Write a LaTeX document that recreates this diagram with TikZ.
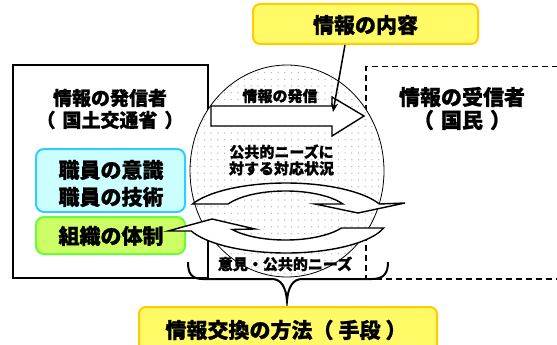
\documentclass[tikz,border=0pt]{standalone}
\usepackage{fontspec}
\newfontfamily\cjk{Noto Sans CJK JP}[BoldFeatures={FakeBold=1}]
\usetikzlibrary{arrows.meta,calc}
\definecolor{cyfill}{RGB}{204,255,255}
\definecolor{cyline}{RGB}{51,204,255}
\definecolor{grfill}{RGB}{204,255,102}
\definecolor{grline}{RGB}{102,255,51}
\definecolor{yefill}{RGB}{255,250,102}
\definecolor{yeline}{RGB}{255,204,0}
\definecolor{dotc}{RGB}{185,185,185}
\begin{document}
\begin{tikzpicture}[x=1pt,y=-1pt,
  bigtxt/.style={font=\cjk\bfseries\fontsize{21}{27}\selectfont, inner sep=0pt, align=center},
  midtxt/.style={font=\cjk\bfseries\fontsize{19}{22}\selectfont, inner sep=0pt, align=center},
  smalltxt/.style={font=\cjk\bfseries\fontsize{15}{16.5}\selectfont, inner sep=0pt, align=center},
  plainbox/.style={draw, line width=1.5pt, inner sep=0pt},
  cybox/.style={draw=cyline, fill=cyfill, line width=2pt, rounded corners=8pt, inner sep=0pt},
  grbox/.style={draw=grline, fill=grfill, line width=2pt, rounded corners=8pt, inner sep=0pt},
  yebox/.style={draw=yeline, fill=yefill, line width=2pt, rounded corners=7pt, inner sep=0pt},
  blockarrow/.style={draw, fill=white, line width=1.4pt, line join=miter},
]
\useasboundingbox (0,0) rectangle (557,345);

% sender box and receiver box
\node[plainbox, minimum width=195pt, minimum height=213pt] (sender) at (110.5,171.5) {};
\node[plainbox, dashed, dash pattern=on 6pt off 4pt, minimum width=205pt, minimum height=212pt, anchor=north west] (receiver) at (365,66) {};

% dotted ellipse
\fill[white] (287,171) ellipse [x radius=97, y radius=106];
\begin{scope}
  \clip (287,171) ellipse [x radius=97, y radius=106];
  \foreach \i in {0,...,29} {
    \foreach \j in {0,...,32} {
      \fill[dotc] (191+\i*6.7, 66+\j*6.7) circle [radius=0.75];
    }
  }
\end{scope}
\draw[line width=0.8pt] (287,171) ellipse [x radius=97, y radius=106];

% block arrow
\draw[blockarrow] (211,106) -- (332,106) -- (332,97) -- (364,116) -- (332,136) -- (332,126) -- (211,126) -- cycle;
\node[smalltxt] (sendlbl) at (280,96) {情報の発信};

% texts
\node[midtxt] (sender1) at (110,98) {情報の発信者};
\node[midtxt] (sender2) at (110,120) {（\hspace{7pt}国土交通省\hspace{7pt}）};
\node[bigtxt] (recv1) at (462,97) {情報の受信者};
\node[bigtxt] (recv2) at (462,120) {（\hspace{7pt}国民\hspace{7pt}）};
\node[smalltxt] (needs) at (281.5,160) {公共的ニーズに\\対する対応状況};

% cyan and green boxes
\node[cybox, minimum width=149pt, minimum height=63pt] (staff) at (110.5,180.5) {};
\node[bigtxt] (staff1) at (111,170) {職員の意識};
\node[bigtxt] (staff2) at (111,197) {職員の技術};
\node[grbox, minimum width=149pt, minimum height=37pt] (org) at (110.5,235.5) {};
\node[bigtxt] (orgtxt) at (111,236) {組織の体制};

% cycle arrows
\draw[blockarrow] (192.5,204) arc[start angle=-156.4, end angle=-23.6, x radius=102, y radius=35]
  -- (405,203) -- (358,213) -- (315,204) -- (342.9,204)
  arc[start angle=-28, end angle=-152, x radius=65, y radius=24.5] -- cycle;
\draw[blockarrow] (383.7,228) arc[start angle=16.6, end angle=158.2, x radius=102, y radius=35]
  -- (168,231) -- (212,219) -- (255,229) -- (232.1,229.5)
  arc[start angle=145.2, end angle=30.7, x radius=65, y radius=24.5] -- cycle;

\node[smalltxt] (opinion) at (285,264) {意見・公共的ニーズ};

% brace
\draw[line width=2pt] (188,262) .. controls (188,273) and (191,279) .. (203,279) -- (272,279)
  .. controls (281,279) and (286,287) .. (287,301)
  .. controls (288,287) and (293,279) .. (302,279) -- (372,279)
  .. controls (384,279) and (388,273) .. (388,262);

% yellow boxes
\node[yebox, minimum width=225pt, minimum height=40pt] (content) at (365.5,24) {};
\node[bigtxt] (contenttxt) at (365.5,25) {情報の内容};
\coordinate (tip) at (333,112);
\draw[line width=1.5pt, -{Stealth[length=9pt,width=7pt]}] ([xshift=-20.5pt]content.south) -- (tip);

\node[yebox, minimum width=298pt, minimum height=50pt, anchor=north west] (method) at (138,306) {};
\node[bigtxt] (methodtxt) at (286,330) {情報交換の方法（\hspace{5pt}手段\hspace{5pt}）};
\end{tikzpicture}
\end{document}
